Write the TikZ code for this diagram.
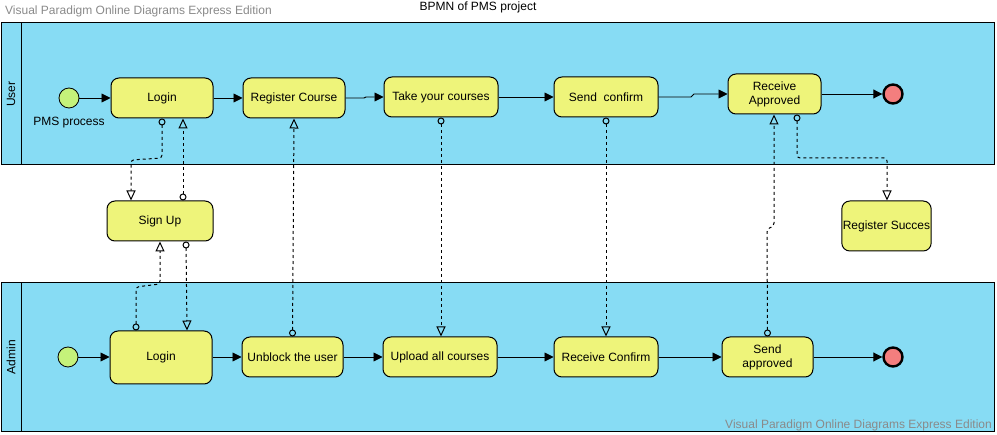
\documentclass[tikz,border=0pt]{standalone}
\usepackage{fontspec}
\setmainfont{Liberation Sans}
\usetikzlibrary{arrows.meta,calc}
\definecolor{poolblue}{HTML}{87DCF4}
\definecolor{taskyellow}{HTML}{EEF47A}
\definecolor{startgreen}{HTML}{C5F27A}
\definecolor{endred}{HTML}{F47E7E}
\definecolor{wmgray}{HTML}{8A8A8A}
\tikzset{
  task/.style={draw=black, line width=1pt, fill=taskyellow, rounded corners=8pt, align=center, inner sep=1pt, font=\fontsize{12}{14}\selectfont},
  startev/.style={circle, draw=black, line width=0.8pt, fill=startgreen, minimum size=20pt, inner sep=0pt},
  endev/.style={circle, draw=black, line width=2.4pt, fill=endred, minimum size=19pt, inner sep=0pt},
  seqflow/.style={draw=black, line width=0.9pt, -{Triangle[length=9pt,width=9pt]}},
  msgflow/.style={draw=black, line width=1pt, dash pattern=on 3pt off 3pt, rounded corners=3pt,
     {Circle[open,length=7pt,width=7pt,line width=1pt]}-{Triangle[open,length=10pt,width=9pt,line width=1pt,fill=none]}},
  pool/.style={draw=black, line width=1pt, fill=poolblue},
  lbl/.style={font=\fontsize{12}{14}\selectfont},
  wm/.style={font=\fontsize{12}{14}\selectfont, text=wmgray, inner sep=0pt}
}
\begin{document}
\begin{tikzpicture}[x=1pt,y=-1pt]
\useasboundingbox[fill=white] (0,0) rectangle (997,435);
% watermarks and title
\node[wm, anchor=west] (wm1) at (5,11) {Visual Paradigm Online Diagrams Express Edition};
\node[lbl, inner sep=0pt] (title) at (478,7) {BPMN of PMS project};
% pools
\draw[pool] (1,23) rectangle (994,165);
\draw[line width=1pt] (21,23) -- (21,165);
\node[lbl, rotate=90] (userlbl) at (11,94) {User};
\draw[pool] (1,283) rectangle (994,432);
\draw[line width=1pt] (21,283) -- (21,432);
\node[lbl, rotate=90] (adminlbl) at (11,357) {Admin};
\node[wm, anchor=east] (wm2) at (992,425) {Visual Paradigm Online Diagrams Express Edition};
% user lane
\node[startev] (us) at (69,98) {};
\node[lbl] (pmsp) at (69,123) {PMS process};
\node[task, minimum width=102pt, minimum height=40pt] (ulogin) at (162,98) {Login};
\node[task, minimum width=102pt, minimum height=40pt] (ureg) at (294,98) {Register Course};
\node[task, minimum width=114pt, minimum height=40pt] (utake) at (441,97) {Take your courses};
\node[task, minimum width=104pt, minimum height=40pt] (usend) at (606,97) {Send\ \ confirm};
\node[task, minimum width=93pt, minimum height=40pt] (urecv) at (774.5,94) {Receive\\Approved};
\node[endev] (ue) at (893,94) {};
% middle
\node[task, minimum width=106pt, minimum height=40pt] (signup) at (160,221) {Sign Up};
\node[task, minimum width=89pt, minimum height=50pt] (regsucc) at (886.5,226) {Register Succes};
% admin lane
\node[startev] (as) at (68,357) {};
\node[task, minimum width=102pt, minimum height=53pt] (alogin) at (161,357.5) {Login};
\node[task, minimum width=101pt, minimum height=40pt] (aunb) at (292.5,357) {Unblock the user};
\node[task, minimum width=114pt, minimum height=40pt] (aupl) at (440,357) {Upload all courses};
\node[task, minimum width=104pt, minimum height=40pt] (arecv) at (606,357) {Receive Confirm};
\node[task, minimum width=91pt, minimum height=40pt] (asend) at (767.5,357) {Send\\approved};
\node[endev] (ae) at (893,357) {};
% sequence flows user
\draw[seqflow] (us) -- (ulogin);
\draw[seqflow] (ulogin.east |- 0,98) -- (ureg.west |- 0,98);
\draw[seqflow] (ureg.east |- 0,98) -- (364,98) -- (366,97) -- (utake.west);
\draw[seqflow] (utake) -- (usend);
\draw[seqflow] (usend.east) -- (691,97) -- (694,94) -- (urecv.west);
\draw[seqflow] (urecv) -- (ue);
% sequence flows admin
\draw[seqflow] (as) -- (alogin.west |- as);
\draw[seqflow] (alogin.east |- 0,357) -- (aunb.west);
\draw[seqflow] (aunb) -- (aupl);
\draw[seqflow] (aupl) -- (arecv);
\draw[seqflow] (arecv) -- (asend);
\draw[seqflow] (asend) -- (ae);
% message flows
\draw[msgflow] (ulogin.south) -- (162,158) -- (131,160) -- (signup.north -| 131,0);
\draw[msgflow] (signup.north -| 183,0) -- (ulogin.south -| 183,0);
\draw[msgflow] (signup.south -| 186,0) -- (alogin.north -| 187,0);
\draw[msgflow] (alogin.north -| 136,0) -- (136,287) -- (160,284) -- (signup.south -| 160,0);
\draw[msgflow] (aunb.north) -- (ureg.south);
\draw[msgflow] (utake.south) -- (aupl.north -| utake.south);
\draw[msgflow] (usend.south) -- (arecv.north);
\draw[msgflow] (asend.north) -- (767,229) -- (774,226) -- (urecv.south -| 774,0);
\draw[msgflow] (urecv.south -| 797,0) -- (797,158) -- (887,158) -- (regsucc.north -| 887,0);
\end{tikzpicture}
\end{document}
